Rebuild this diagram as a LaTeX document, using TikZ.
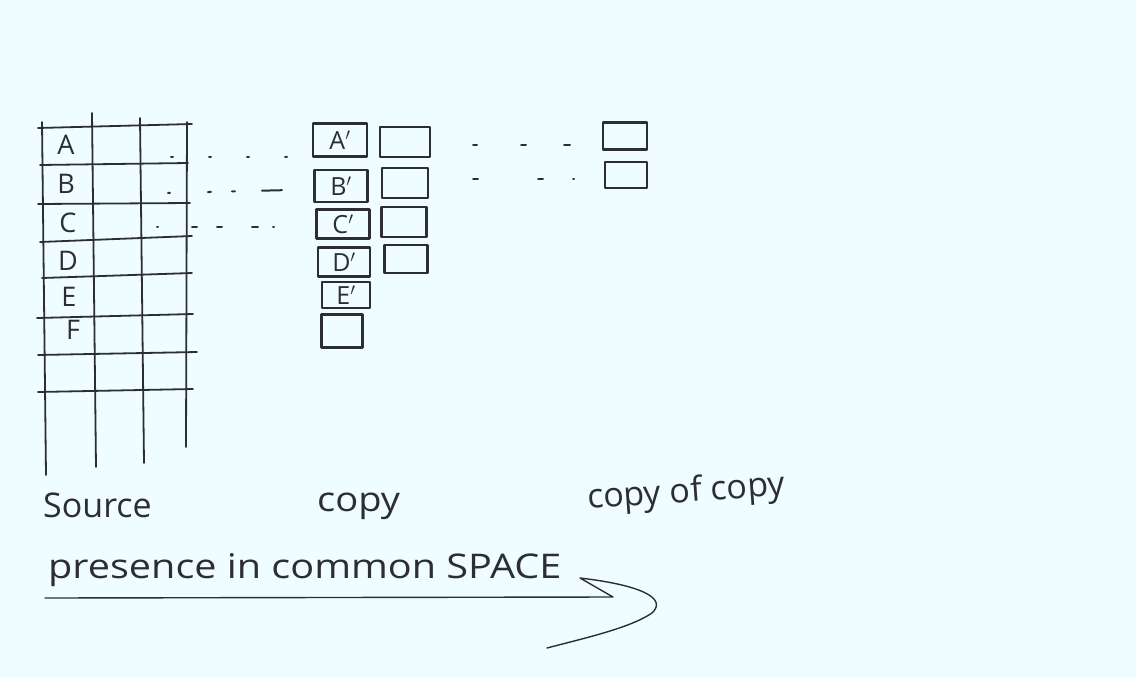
\documentclass[tikz,border=0pt]{standalone}
\usepackage{fontspec}
\setmainfont{Open Sans}
\definecolor{paper}{RGB}{240,253,255}
\definecolor{ink}{RGB}{45,45,55}
\tikzset{
  x=1pt, y=-1pt,
  pen/.style={draw=ink, line width=2.2pt, line cap=round, line join=round},
  gridline/.style={pen, line width=1.8pt},
  cellbox/.style={pen, rectangle, inner sep=0pt, font=\fontsize{25}{27}\selectfont, text=ink},
  letter/.style={font=\fontsize{27}{29}\selectfont, text=ink, inner sep=0pt},
  dotrow/.style={draw=ink, line width=2pt, line cap=round, dash pattern=on 2pt off 33pt},
  label/.style={font=\fontsize{34}{36}\selectfont, text=ink, inner sep=0pt, anchor=base west},
}
\begin{document}
\begin{tikzpicture}
\fill[paper] (0,0) rectangle (1136,678);
\useasboundingbox (0,0) rectangle (1136,678);

% source grid
\draw[gridline] (42,122) -- (46,475);
\draw[gridline] (92,113) -- (96,467);
\draw[gridline] (140,118) -- (144,463);
\draw[gridline] (187,122) -- (186,447);
\draw[gridline] (38,128) -- (192,124);
\draw[gridline] (40,165) -- (188,163);
\draw[gridline] (38,204) -- (190,203);
\draw[gridline] (40,242) -- (192,236);
\draw[gridline] (42,278) -- (192,273);
\draw[gridline] (37,318) -- (193,314);
\draw[gridline] (38,355) -- (197,352);
\draw[gridline] (38,392) -- (193,389);

\node[letter] (sA) at (66,145) {A};
\node[letter] (sB) at (66,184) {B};
\node[letter] (sC) at (68,223) {C};
\node[letter] (sD) at (68,261) {D};
\node[letter] (sE) at (69,297) {E};
\node[letter] (sF) at (73,330) {F};

% copy boxes
\node[cellbox, minimum width=54pt, minimum height=33pt] (cA) at (340,140) {A$'$};
\node[cellbox, minimum width=50pt, minimum height=30pt] (cA2) at (405,142) {};
\node[cellbox, minimum width=53pt, minimum height=32pt] (cB) at (341,186) {B$'$};
\node[cellbox, minimum width=46pt, minimum height=30pt] (cB2) at (405,183) {};
\node[cellbox, minimum width=53pt, minimum height=29pt] (cC) at (343,224) {C$'$};
\node[cellbox, minimum width=45pt, minimum height=30pt] (cC2) at (404,222) {};
\node[cellbox, minimum width=52pt, minimum height=29pt] (cD) at (344,262) {D$'$};
\node[cellbox, minimum width=43pt, minimum height=28pt] (cD2) at (406,259) {};
\node[cellbox, minimum width=48pt, minimum height=26pt] (cE) at (346,295) {E$'$};
\node[cellbox, minimum width=41pt, minimum height=33pt] (cF) at (342,331) {};

% copy of copy boxes
\node[cellbox, minimum width=44pt, minimum height=27pt] (ccA) at (625,136) {};
\node[cellbox, minimum width=42pt, minimum height=26pt] (ccB) at (626,175) {};

% dotted rows
\coordinate (dA1) at (171,157); \coordinate (dA2) at (290,157);
\coordinate (dB1) at (168,193); \coordinate (dB2) at (290,190);
\coordinate (dC1) at (157,227); \coordinate (dC2) at (280,227);
\coordinate (dD1) at (473,145); \coordinate (dD2) at (570,145);
\coordinate (dE1) at (473,179); \coordinate (dE2) at (580,179);
\draw[dotrow, dash pattern=on 2pt off 36pt] (dA1) -- (dA2);
\draw[dotrow, dash pattern=on 2pt off 38pt on 3pt off 21pt on 3pt off 27pt on 20pt off 30pt] (dB1) -- (dB2);
\draw[dotrow, dash pattern=on 1pt off 34pt on 5pt off 20pt on 5pt off 30pt on 6pt off 15pt on 1pt off 30pt] (dC1) -- (dC2);
\draw[dotrow, dash pattern=on 4pt off 44pt on 5pt off 38pt on 6pt off 20pt] (dD1) -- (dD2);
\draw[dotrow, dash pattern=on 5pt off 60pt on 5pt off 30pt on 1pt off 20pt] (dE1) -- (dE2);

% labels
\node[label] (lsrc) at (43,517) {Source};
\node[label] (lcopy) at (317,511) {\scalebox{1.12}[1]{copy}};
\node[label, rotate=4] (lcc) at (588,509) {copy of copy};
\node[label] (lpres) at (48,578) {\scalebox{1.165}[1]{presence in common SPACE}};

% arrow
\coordinate (arrS) at (45,598);
\coordinate (arrE) at (547,648);
\draw[pen, line width=1.4pt] (arrS) -- (613,597) -- (580,578)
  .. controls (640,585) and (668,598) .. (652,613)
  .. controls (630,628) and (585,638) .. (arrE);
\end{tikzpicture}
\end{document}
